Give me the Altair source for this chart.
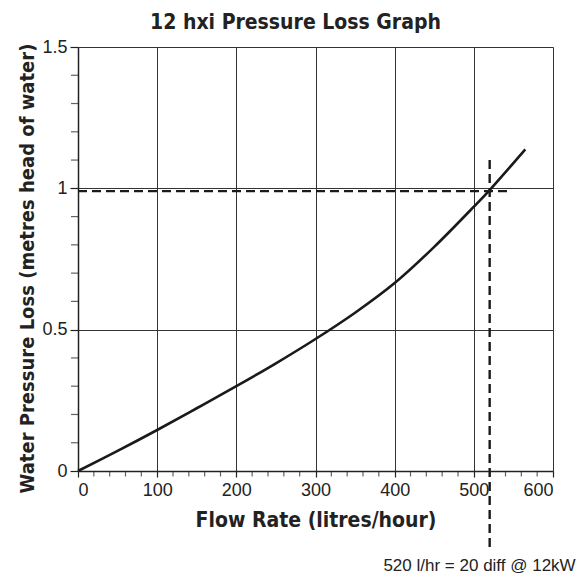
import altair as alt
import pandas as pd

# Curve
flow = [0, 50, 100, 150, 200, 250, 300, 350, 400, 450, 500, 520, 565]
loss = [0, 0.071, 0.145, 0.222, 0.300, 0.381, 0.467, 0.560, 0.665, 0.793, 0.935, 0.994, 1.138]

# Reference (dashed) lines
h_x = [0, 545]
h_y = [0.99, 0.99]
v_x = [520, 520]
v_y = [1.10, -0.275]
note_text = ["520 l/hr = 20 diff @ 12kW"]
note_x = [520]
note_y = [-0.335]

x_major = [0, 100, 200, 300, 400, 500, 600]
y_major = [0, 0.5, 1, 1.5]
x_minor = [v for v in range(20, 600, 20) if v % 100 != 0]
y_minor = [0.1, 0.2, 0.3, 0.4, 0.6, 0.7, 0.8, 0.9, 1.1, 1.2, 1.3, 1.4]

bold_font = "DejaVu Sans Condensed, Liberation Sans, sans-serif"
reg_font = "Liberation Sans, Arial, sans-serif"
ink = "#222"

curve_df = pd.DataFrame({"flow": flow, "loss": loss})
h_df = pd.DataFrame({"flow": h_x, "loss": h_y})
v_df = pd.DataFrame({"flow": v_x, "loss": v_y})
note_df = pd.DataFrame({"flow": note_x, "loss": note_y, "t": note_text})
xmin_df = pd.DataFrame({"flow": x_minor, "loss": [0] * len(x_minor)})
ymin_df = pd.DataFrame({"flow": [0] * len(y_minor), "loss": y_minor})

xscale = alt.Scale(domain=[0, 600], nice=False, zero=False)
yscale = alt.Scale(domain=[0, 1.5], nice=False, zero=False)

x_axis = alt.Axis(
    values=x_major,
    title="Flow Rate (litres/hour)",
    titleFont=bold_font, titleFontSize=21, titleFontWeight="bold", titleColor=ink,
    titlePadding=10,
    labelExpr="'' + datum.value",
    labelOverlap=False,
    labelFont=reg_font, labelFontSize=18, labelColor=ink, labelPadding=4,
    grid=True, gridColor="#333", gridWidth=1,
    tickSize=6, tickColor=ink, tickWidth=1.2,
    domainColor=ink, domainWidth=1.5,
)
y_axis = alt.Axis(
    values=y_major,
    title="Water Pressure Loss (metres head of water)",
    titleFont=bold_font, titleFontSize=20, titleFontWeight="bold", titleColor=ink,
    titlePadding=4, titleY=221,
    labelExpr="'' + datum.value",
    labelOverlap=False,
    labelFont=reg_font, labelFontSize=18, labelColor=ink, labelPadding=3,
    grid=True, gridColor="#333", gridWidth=1,
    tickSize=8, tickColor=ink, tickWidth=1.2,
    domainColor=ink, domainWidth=1.5,
)

curve = alt.Chart(curve_df).mark_line(color="#1a1a1a", strokeWidth=2.6, interpolate="catmull-rom").encode(
    x=alt.X("flow:Q", scale=xscale, axis=x_axis),
    y=alt.Y("loss:Q", scale=yscale, axis=y_axis),
)

xminor = alt.Chart(xmin_df).mark_tick(
    orient="vertical", size=5, thickness=1.2, color=ink, yOffset=3, clip=False
).encode(
    x=alt.X("flow:Q", scale=xscale),
    y=alt.Y("loss:Q", scale=yscale),
)
yminor = alt.Chart(ymin_df).mark_tick(
    orient="horizontal", size=7, thickness=1.2, color=ink, xOffset=-3.5, clip=False
).encode(
    x=alt.X("flow:Q", scale=xscale),
    y=alt.Y("loss:Q", scale=yscale),
)

hline = alt.Chart(h_df).mark_line(color="#1a1a1a", strokeWidth=2.4, strokeDash=[9, 5], clip=False).encode(
    x=alt.X("flow:Q", scale=xscale),
    y=alt.Y("loss:Q", scale=yscale),
)
vline = alt.Chart(v_df).mark_line(color="#1a1a1a", strokeWidth=2.4, strokeDash=[9, 5], clip=False).encode(
    x=alt.X("flow:Q", scale=xscale),
    y=alt.Y("loss:Q", scale=yscale),
)
note = alt.Chart(note_df).mark_text(
    font=reg_font, fontSize=17, color=ink, align="right", baseline="middle", dx=86, clip=False
).encode(
    x=alt.X("flow:Q", scale=xscale),
    y=alt.Y("loss:Q", scale=yscale),
    text="t:N",
)

chart = alt.layer(curve, xminor, yminor, hline, vline, note).properties(
    width=475,
    height=424,
    title=alt.Title(
        "12 hxi Pressure Loss Graph",
        font=bold_font, fontSize=21, fontWeight="bold", color=ink,
        anchor="middle", dx=-20, offset=5,
    ),
    autosize=alt.AutoSizeParams(type="none"),
    padding={"left": 70, "top": 39, "right": 24, "bottom": 106},
).configure_view(stroke=ink, strokeWidth=1.2).configure(background="white")

chart.save("out.html", embed_options={"renderer": "svg", "actions": False})
